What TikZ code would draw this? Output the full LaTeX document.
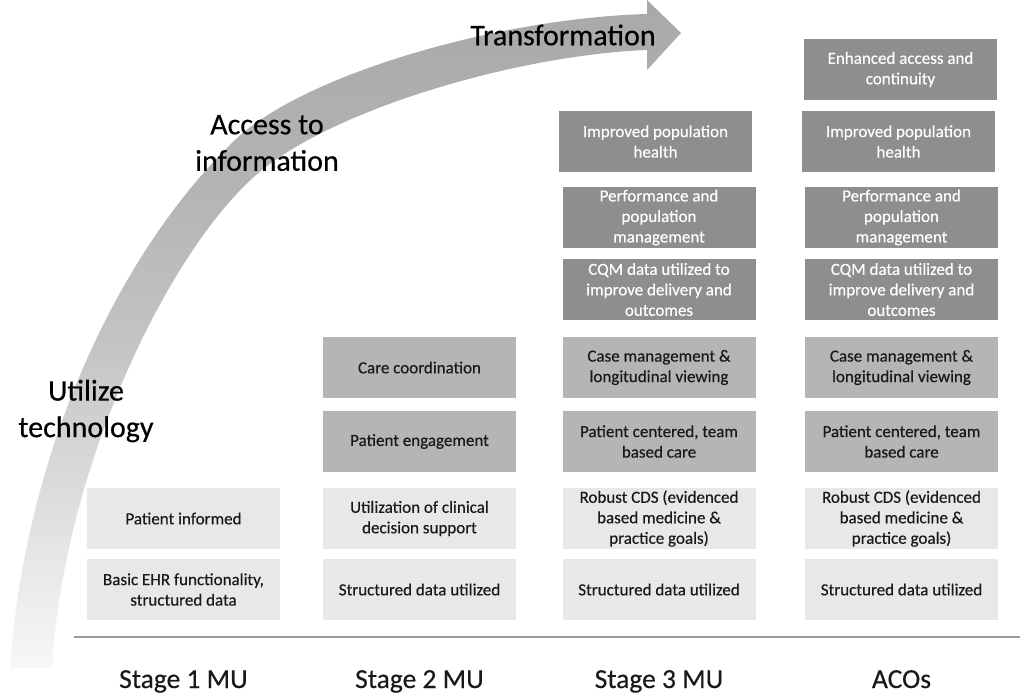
\documentclass[tikz,border=0pt]{standalone}
\usepackage{fontspec}
\setmainfont{Carlito}[FakeBold=0.35]
\definecolor{boxdark}{HTML}{8E8E8E}
\definecolor{boxmid}{HTML}{B5B5B5}
\definecolor{boxlight}{HTML}{E8E8E8}
\definecolor{ruleGray}{HTML}{9A9A9A}
\pgfdeclareverticalshading{bandshade}{100bp}{color(0bp)=(white); color(25bp)=(white!97!black); color(30bp)=(white!93!black); color(41bp)=(white!84!black); color(49bp)=(white!77!black); color(60bp)=(white!71!black); color(75bp)=(white!66!black); color(100bp)=(white!66!black)}
\tikzset{
  boxbase/.style={rectangle, minimum width=193pt, minimum height=61pt, inner sep=0pt, align=center, font=\fontsize{17}{20.5}\selectfont},
  darkbox/.style={boxbase, fill=boxdark, text=white},
  midbox/.style={boxbase, fill=boxmid, text=black!90},
  lightbox/.style={boxbase, fill=boxlight, text=black!90},
  biglabel/.style={align=center, font=\fontsize{30}{36.5}\selectfont, text=black},
  stagelabel/.style={anchor=base, font=\fontsize{27.5}{32}\selectfont, text=black!90}
}
\begin{document}
\begin{tikzpicture}[x=1pt,y=-1pt]
\useasboundingbox (0,0) rectangle (1024,699);
% curved arrow band
\shade[shading=bandshade]
  (10,668) .. controls (25,450) and (120,250) .. (235,140)
  .. controls (304,74) and (500,18) .. (647,14)
  -- (647,0) -- (681,33) -- (647,70) -- (647,50)
  .. controls (520,55) and (340,107) .. (262,170)
  .. controls (175,240) and (64,460) .. (52,668)
  -- cycle;
% labels along the arrow
\node[biglabel] (trans) at (563,35) {Transformation};
\node[biglabel] (access) at (267,143) {Access to\\information};
\node[biglabel] (utilize) at (86,411) {Utilize\\technology};
% column 1
\node[lightbox] (c1a) at (183.5,518.5) {Patient informed};
\node[lightbox] (c1b) at (183.5,589.5) {Basic EHR functionality,\\structured data};
% column 2
\node[midbox] (c2a) at (419.5,367.5) {Care coordination};
\node[midbox] (c2b) at (419.5,441.5) {Patient engagement};
\node[lightbox] (c2c) at (419.5,518.5) {Utilization of clinical\\decision support};
\node[lightbox] (c2d) at (419.5,589.5) {Structured data utilized};
% column 3
\node[darkbox] (c3a) at (655.5,141.5) {Improved population\\health};
\node[darkbox] (c3b) at (659,217.5) {Performance and\\population\\management};
\node[darkbox] (c3c) at (659,289.5) {CQM data utilized to\\improve delivery and\\outcomes};
\node[midbox] (c3d) at (659,367.5) {Case management \&\\longitudinal viewing};
\node[midbox] (c3e) at (659,441.5) {Patient centered, team\\based care};
\node[lightbox] (c3f) at (659,518.5) {Robust CDS (evidenced\\based medicine \&\\practice goals)};
\node[lightbox] (c3g) at (659,589.5) {Structured data utilized};
% column 4
\node[darkbox] (c4z) at (900.5,69.5) {Enhanced access and\\continuity};
\node[darkbox] (c4a) at (898.5,141.5) {Improved population\\health};
\node[darkbox] (c4b) at (901.5,217.5) {Performance and\\population\\management};
\node[darkbox] (c4c) at (901.5,289.5) {CQM data utilized to\\improve delivery and\\outcomes};
\node[midbox] (c4d) at (901.5,367.5) {Case management \&\\longitudinal viewing};
\node[midbox] (c4e) at (901.5,441.5) {Patient centered, team\\based care};
\node[lightbox] (c4f) at (901.5,518.5) {Robust CDS (evidenced\\based medicine \&\\practice goals)};
\node[lightbox] (c4g) at (901.5,589.5) {Structured data utilized};
% baseline
\coordinate (bl) at (74,637);
\coordinate (br) at (1020,637);
\draw[ruleGray, line width=2.5pt] (bl) -- (br);
% stage labels
\node[stagelabel] (s1) at (183.5,688) {Stage 1 MU};
\node[stagelabel] (s2) at (419.5,688) {Stage 2 MU};
\node[stagelabel] (s3) at (659,688) {Stage 3 MU};
\node[stagelabel] (s4) at (901.5,688) {ACOs};
\end{tikzpicture}
\end{document}
